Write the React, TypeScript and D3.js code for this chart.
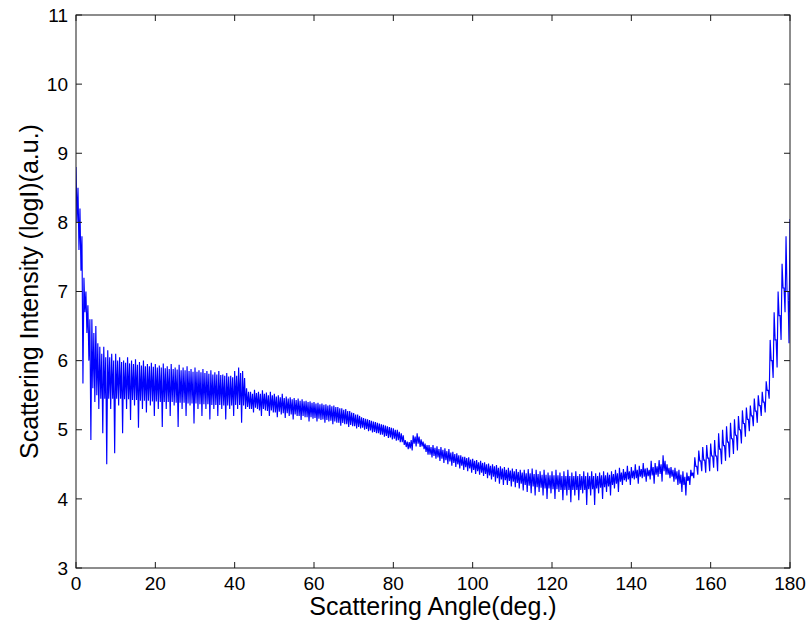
import React from 'react';
import * as d3 from 'd3';

// x grid: one sample group per degree (0..180). Each degree holds a full excursion
// (upper / lower, including spikes) and a core excursion (coreHigh / coreLow) of the dense oscillation.
const angleStart = 0;
const angleEnd = 180;

const xTickValues = [0, 20, 40, 60, 80, 100, 120, 140, 160, 180];
const yTickValues = [3, 4, 5, 6, 7, 8, 9, 10, 11];

const upperValues = [
  8.8, 8.2, 7.2, 6.8, 6.6, 6.5, 6.2, 6.2, 6.15, 6.1,
  6.1, 6.05, 6.0, 6.05, 6.0, 6.02, 5.98, 6.0, 5.95, 5.97,
  5.95, 5.93, 5.96, 5.92, 5.95, 5.9, 5.94, 5.9, 5.92, 5.88,
  5.9, 5.86, 5.88, 5.85, 5.86, 5.83, 5.85, 5.8, 5.82, 5.78,
  5.85, 5.9, 5.85, 5.6, 5.55, 5.58, 5.55, 5.57, 5.54, 5.55,
  5.52, 5.5, 5.52, 5.48, 5.47, 5.46, 5.45, 5.44, 5.42, 5.41,
  5.4, 5.39, 5.38, 5.37, 5.36, 5.35, 5.33, 5.31, 5.3, 5.27,
  5.24, 5.22, 5.18, 5.16, 5.14, 5.12, 5.1, 5.08, 5.06, 5.04,
  5.02, 5.0, 4.95, 4.85, 4.82, 4.92, 4.95, 4.86, 4.8, 4.78,
  4.78, 4.76, 4.75, 4.73, 4.72, 4.68, 4.66, 4.63, 4.61, 4.6,
  4.58, 4.56, 4.55, 4.53, 4.51, 4.5, 4.49, 4.47, 4.46, 4.45,
  4.44, 4.43, 4.42, 4.42, 4.43, 4.44, 4.42, 4.4, 4.42, 4.38,
  4.4, 4.42, 4.38, 4.4, 4.42, 4.38, 4.4, 4.36, 4.4, 4.38,
  4.4, 4.37, 4.38, 4.4, 4.38, 4.4, 4.42, 4.45, 4.43, 4.48,
  4.46, 4.5, 4.48, 4.52, 4.45, 4.55, 4.52, 4.56, 4.63, 4.5,
  4.46, 4.45, 4.42, 4.4, 4.38, 4.42, 4.6, 4.7, 4.75, 4.78,
  4.8, 4.85, 4.95, 5.0, 5.05, 5.1, 5.15, 5.2, 5.28, 5.32,
  5.35, 5.45, 5.5, 5.55, 5.7, 6.3, 6.7, 7.0, 7.4, 7.8,
  8.05,
];

const lowerValues = [
  7.6, 5.67, 6.4, 4.85, 5.4, 5.3, 4.95, 4.5, 5.3, 4.66,
  5.35, 4.95, 5.3, 5.14, 5.35, 5.03, 5.3, 5.25, 5.35, 5.2,
  5.3, 5.04, 5.3, 5.2, 5.35, 5.04, 5.3, 5.2, 5.35, 5.09,
  5.3, 5.2, 5.3, 5.15, 5.3, 5.2, 5.3, 5.15, 5.3, 5.2,
  5.3, 5.1, 5.3, 5.3, 5.25, 5.3, 5.2, 5.28, 5.2, 5.25,
  5.18, 5.22, 5.17, 5.2, 5.15, 5.2, 5.14, 5.18, 5.12, 5.16,
  5.12, 5.14, 5.1, 5.12, 5.08, 5.1, 5.06, 5.08, 5.04, 5.05,
  5.02, 5.02, 5.0, 4.98, 4.96, 4.95, 4.93, 4.9, 4.88, 4.86,
  4.84, 4.82, 4.78, 4.72, 4.7, 4.76, 4.75, 4.72, 4.64, 4.6,
  4.58, 4.55, 4.52, 4.5, 4.48, 4.46, 4.44, 4.42, 4.4, 4.38,
  4.36, 4.35, 4.33, 4.3, 4.28, 4.25, 4.22, 4.2, 4.2, 4.18,
  4.17, 4.15, 4.12, 4.1, 4.08, 4.05, 4.1, 4.05, 4.0, 4.08,
  4.0, 4.1, 3.98, 4.05, 3.95, 4.05, 3.98, 4.08, 3.91, 4.05,
  3.91, 4.08, 4.0, 4.1, 4.05, 4.15, 4.1, 4.2, 4.25, 4.2,
  4.28, 4.22, 4.3, 4.25, 4.28, 4.22, 4.32, 4.25, 4.35, 4.3,
  4.25, 4.2, 4.1, 4.05, 4.2, 4.3, 4.35, 4.4, 4.38, 4.4,
  4.45, 4.4, 4.5, 4.55, 4.6, 4.65, 4.7, 4.8, 4.9, 4.98,
  5.05, 5.1, 5.2, 5.25, 5.45, 5.75, 5.9, 6.3, 6.7, 6.25,
  6.7,
];

const coreHighValues = [
  8.5, 7.8, 7.0, 6.6, 6.4, 6.25, 6.1, 6.05, 6.05, 6.0,
  6.0, 5.98, 5.97, 5.96, 5.95, 5.94, 5.93, 5.92, 5.92, 5.91,
  5.9, 5.9, 5.89, 5.88, 5.88, 5.87, 5.86, 5.86, 5.85, 5.84,
  5.84, 5.83, 5.82, 5.81, 5.8, 5.8, 5.79, 5.78, 5.77, 5.76,
  5.78, 5.82, 5.75, 5.55, 5.52, 5.53, 5.52, 5.52, 5.5, 5.5,
  5.48, 5.47, 5.46, 5.45, 5.44, 5.43, 5.42, 5.41, 5.4, 5.39,
  5.38, 5.37, 5.36, 5.35, 5.34, 5.33, 5.31, 5.29, 5.27, 5.25,
  5.22, 5.2, 5.17, 5.15, 5.13, 5.11, 5.09, 5.07, 5.05, 5.03,
  5.0, 4.97, 4.92, 4.83, 4.85, 4.9, 4.9, 4.83, 4.78, 4.75,
  4.74, 4.72, 4.71, 4.69, 4.67, 4.65, 4.63, 4.61, 4.59, 4.57,
  4.55, 4.53, 4.52, 4.5, 4.48, 4.47, 4.45, 4.44, 4.42, 4.41,
  4.4, 4.39, 4.38, 4.37, 4.37, 4.36, 4.36, 4.35, 4.35, 4.34,
  4.34, 4.34, 4.33, 4.33, 4.33, 4.33, 4.33, 4.33, 4.33, 4.33,
  4.33, 4.33, 4.34, 4.34, 4.35, 4.36, 4.37, 4.38, 4.39, 4.4,
  4.41, 4.42, 4.43, 4.44, 4.42, 4.46, 4.47, 4.5, 4.55, 4.45,
  4.42, 4.4, 4.35, 4.32, 4.33, 4.38, 4.47, 4.55, 4.56, 4.59,
  4.62, 4.62, 4.72, 4.77, 4.82, 4.87, 4.92, 5.0, 5.09, 5.15,
  5.2, 5.27, 5.35, 5.4, 5.57, 6.0, 6.3, 6.65, 7.05, 7.0,
  7.4,
];

const coreLowValues = [
  8.0, 7.3, 6.7, 6.0, 5.6, 5.5, 5.45, 5.45, 5.45, 5.45,
  5.45, 5.45, 5.44, 5.44, 5.43, 5.43, 5.42, 5.42, 5.42, 5.41,
  5.41, 5.4, 5.4, 5.4, 5.4, 5.39, 5.39, 5.39, 5.38, 5.38,
  5.38, 5.37, 5.37, 5.37, 5.36, 5.36, 5.36, 5.35, 5.35, 5.35,
  5.36, 5.36, 5.35, 5.33, 5.3, 5.32, 5.28, 5.3, 5.27, 5.28,
  5.25, 5.26, 5.24, 5.24, 5.22, 5.22, 5.2, 5.2, 5.18, 5.18,
  5.17, 5.16, 5.15, 5.14, 5.13, 5.12, 5.1, 5.1, 5.08, 5.07,
  5.05, 5.04, 5.03, 5.01, 4.99, 4.97, 4.95, 4.93, 4.91, 4.89,
  4.87, 4.85, 4.82, 4.75, 4.73, 4.8, 4.8, 4.76, 4.68, 4.64,
  4.62, 4.6, 4.58, 4.56, 4.54, 4.52, 4.5, 4.48, 4.46, 4.44,
  4.42, 4.4, 4.38, 4.36, 4.34, 4.32, 4.3, 4.28, 4.27, 4.26,
  4.25, 4.23, 4.22, 4.2, 4.19, 4.18, 4.17, 4.16, 4.15, 4.15,
  4.14, 4.14, 4.13, 4.13, 4.13, 4.13, 4.13, 4.13, 4.13, 4.14,
  4.14, 4.15, 4.16, 4.17, 4.18, 4.2, 4.22, 4.25, 4.27, 4.28,
  4.3, 4.3, 4.32, 4.32, 4.33, 4.34, 4.35, 4.36, 4.4, 4.35,
  4.32, 4.28, 4.22, 4.2, 4.26, 4.33, 4.47, 4.55, 4.56, 4.59,
  4.62, 4.62, 4.72, 4.77, 4.82, 4.87, 4.92, 5.0, 5.09, 5.15,
  5.2, 5.27, 5.35, 5.4, 5.57, 6.0, 6.3, 6.65, 7.05, 7.0,
  7.4,
];

const xLabel = 'Scattering Angle(deg.)';
const yLabel = 'Scattering Intensity (logI)(a.u.)';

export default function App() {
  const W = 810;
  const H = 630;
  const left = 76, right = 790, top = 15, bottom = 568;
  const x = d3.scaleLinear().domain([angleStart, angleEnd]).range([left, right]);
  const y = d3.scaleLinear().domain([3, 11]).range([bottom, top]);

  const pts: [number, number][] = [];
  upperValues.forEach((u, i) => {
    const a = angleStart + i;
    pts.push([a, u]);
    if (a < angleEnd) {
      pts.push([a + 0.25, coreLowValues[i]]);
      pts.push([a + 0.5, coreHighValues[i]]);
      pts.push([a + 0.75, lowerValues[i]]);
    } else {
      pts.push([a, lowerValues[i]]);
    }
  });
  const line = d3.line<[number, number]>().x(d => x(d[0])).y(d => y(d[1]));
  const pathD = line(pts) || '';

  const axisColor = '#1a1a1a';
  const font = 'Arial, "Liberation Sans", Helvetica, sans-serif';
  const tickLen = 6;

  return (
    <svg width={W} height={H} viewBox={`0 0 ${W} ${H}`}
      style={{ position: 'absolute', left: 0, top: 0, display: 'block', background: '#fff' }}>
      <rect x={0} y={0} width={W} height={H} fill="#fff" />
      <defs>
        <clipPath id="plotclip">
          <rect x={left} y={top} width={right - left} height={bottom - top} />
        </clipPath>
      </defs>
      <path d={pathD} fill="none" stroke="#0000ff" strokeWidth={1.15} strokeLinejoin="miter" clipPath="url(#plotclip)" />
      <rect x={left} y={top} width={right - left} height={bottom - top} fill="none" stroke={axisColor} strokeWidth={1} />
      {xTickValues.map(t => (
        <g key={'xt' + t}>
          <line x1={x(t)} x2={x(t)} y1={bottom} y2={bottom - tickLen} stroke={axisColor} />
          <line x1={x(t)} x2={x(t)} y1={top} y2={top + tickLen} stroke={axisColor} />
          <text x={x(t)} y={590} textAnchor="middle" fontFamily={font} fontSize={19} fill="#000">{t}</text>
        </g>
      ))}
      {yTickValues.map(t => (
        <g key={'yt' + t}>
          <line x1={left} x2={left + tickLen} y1={y(t)} y2={y(t)} stroke={axisColor} />
          <line x1={right} x2={right - tickLen} y1={y(t)} y2={y(t)} stroke={axisColor} />
          <text x={68} y={y(t)} dy="0.35em" textAnchor="end" fontFamily={font} fontSize={19} fill="#000">{t}</text>
        </g>
      ))}
      <text x={(left + right) / 2} y={615} textAnchor="middle" fontFamily={font} fontSize={25} fill="#000">{xLabel}</text>
      <text transform={`translate(38, ${(top + bottom) / 2}) rotate(-90)`} textAnchor="middle" fontFamily={font} fontSize={25} fill="#000">{yLabel}</text>
    </svg>
  );
}
